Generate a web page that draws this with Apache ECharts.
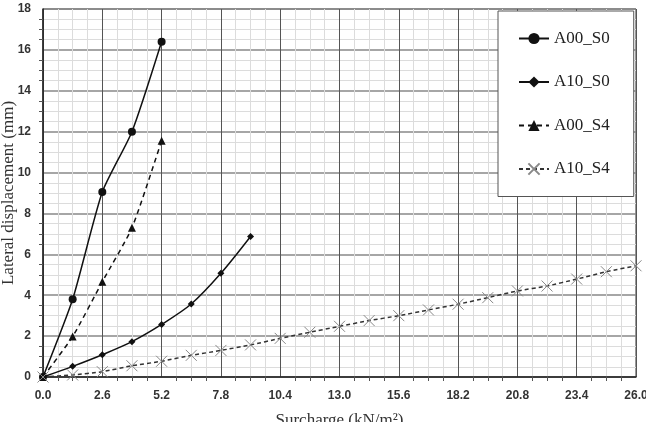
<!DOCTYPE html>
<html><head><meta charset="utf-8">
<script src="https://cdn.jsdelivr.net/npm/echarts@6/dist/echarts.min.js"></script>
<style>html,body{margin:0;padding:0;background:#fff}#c{width:646px;height:422px}</style>
</head><body><div id="c"></div>
<script>
const a00s0X = [0, 1.3, 2.6, 3.9, 5.2];
const a00s0Y = [0, 3.8, 9.05, 12.0, 16.4];
const a10s0X = [0, 1.3, 2.6, 3.9, 5.2, 6.5, 7.8, 9.1];
const a10s0Y = [0, 0.52, 1.09, 1.73, 2.57, 3.57, 5.07, 6.87];
const a00s4X = [0, 1.3, 2.6, 3.9, 5.2];
const a00s4Y = [0, 1.98, 4.66, 7.3, 11.56];
const a10s4X = [0, 1.3, 2.6, 3.9, 5.2, 6.5, 7.8, 9.1, 10.4, 11.7, 13.0, 14.3, 15.6, 16.9, 18.2, 19.5, 20.8, 22.1, 23.4, 24.7, 26.0];
const a10s4Y = [0, 0.1, 0.26, 0.55, 0.77, 1.06, 1.3, 1.57, 1.89, 2.19, 2.48, 2.76, 3.0, 3.28, 3.56, 3.88, 4.21, 4.45, 4.79, 5.15, 5.44];
const seriesNames = ['A00_S0', 'A10_S0', 'A00_S4', 'A10_S4'];

const zip = (xs, ys) => xs.map((x, i) => [x, ys[i]]);
const chart = echarts.init(document.getElementById('c'));
const serif = 'Liberation Serif';
chart.setOption({
  animation: false,
  backgroundColor: '#fff',
  grid: {left: 43, right: 10, top: 9, bottom: 45, containLabel: false, outerBoundsMode: 'none',
         show: true, borderColor: '#333', borderWidth: 1},
  legend: {
    left: 498, top: 11, orient: 'vertical',
    backgroundColor: '#fff', borderColor: '#555', borderWidth: 1,
    padding: [19, 24, 19, 20], itemGap: 26.5, itemWidth: 30, itemHeight: 14,
    textStyle: {fontFamily: serif, fontSize: 17, color: '#222'},
    data: seriesNames
  },
  xAxis: {
    type: 'value', min: 0, max: 26, interval: 2.6,
    name: 'Surcharge (kN/m²)', nameLocation: 'middle', nameGap: 35, nameMoveOverlap: false,
    nameTextStyle: {fontFamily: serif, fontSize: 17, color: '#333'},
    axisLine: {lineStyle: {color: '#222', width: 1.5}},
    axisTick: {show: false},
    minorTick: {show: true, splitNumber: 4, length: 4, lineStyle: {color: '#555'}},
    axisLabel: {formatter: v => v.toFixed(1), fontFamily: 'Liberation Sans', fontWeight: 'bold', fontSize: 12, color: '#333', margin: 13},
    splitLine: {show: true, lineStyle: {color: '#555', width: 1}},
    minorSplitLine: {show: true, lineStyle: {color: '#dcdcdc', width: 1}}
  },
  yAxis: {
    type: 'value', min: 0, max: 18, interval: 2,
    name: 'Lateral displacement (mm)', nameLocation: 'middle', nameGap: 26, nameMoveOverlap: false,
    nameTextStyle: {fontFamily: serif, fontSize: 17, color: '#333'},
    axisLine: {show: true, lineStyle: {color: '#222', width: 1.5}},
    axisTick: {show: false},
    minorTick: {show: true, splitNumber: 4, length: 4, lineStyle: {color: '#555'}},
    axisLabel: {fontFamily: 'Liberation Sans', fontWeight: 'bold', fontSize: 12, color: '#333', margin: 12},
    splitLine: {show: true, lineStyle: {color: '#888', width: 1.5}},
    minorSplitLine: {show: true, lineStyle: {color: '#dcdcdc', width: 1}}
  },
  series: [
    {name: seriesNames[0], type: 'line', data: zip(a00s0X, a00s0Y), smooth: 0.2,
     symbol: 'circle', symbolSize: 8, itemStyle: {color: '#111'}, lineStyle: {color: '#111', width: 1.5}},
    {name: seriesNames[1], type: 'line', data: zip(a10s0X, a10s0Y), smooth: 0.3,
     symbol: 'diamond', symbolSize: 7, itemStyle: {color: '#111'}, lineStyle: {color: '#111', width: 1.5}},
    {name: seriesNames[2], type: 'line', data: zip(a00s4X, a00s4Y), smooth: 0.2,
     symbol: 'triangle', symbolSize: 8, itemStyle: {color: '#111'}, lineStyle: {color: '#111', width: 1.5, type: [5, 4]}},
    {name: seriesNames[3], type: 'line', data: zip(a10s4X, a10s4Y), smooth: 0.2,
     symbol: 'path://M0,0L10,10M10,0L0,10', symbolSize: 11,
     itemStyle: {color: 'none', borderColor: '#888', borderWidth: 1},
     lineStyle: {color: '#333', width: 1.5, type: [4, 3]}}
  ]
});
</script></body></html>
